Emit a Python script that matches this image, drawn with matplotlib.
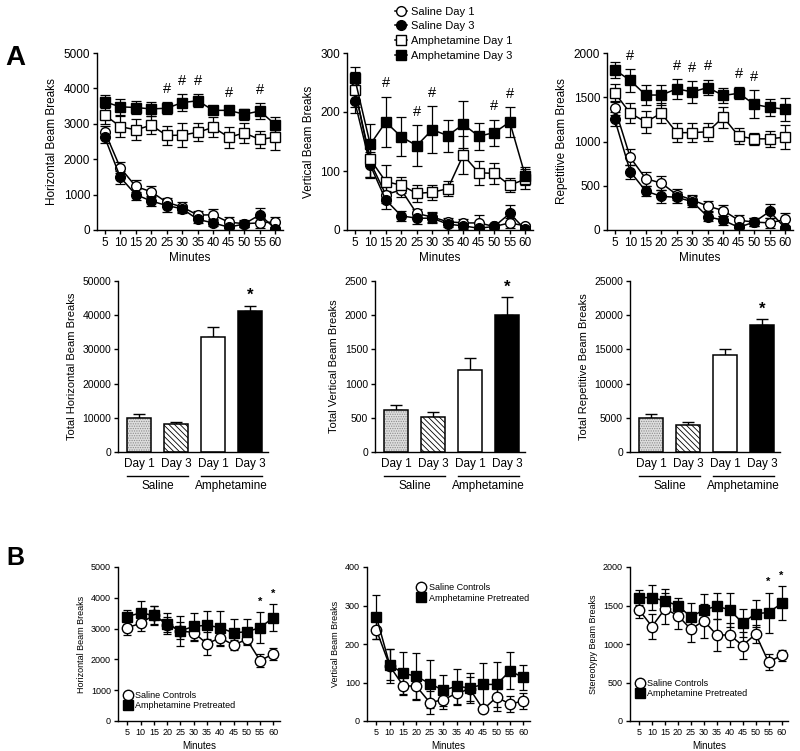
import matplotlib
matplotlib.use("Agg")
import matplotlib.pyplot as plt
import matplotlib.transforms as mtransforms
import numpy as np

plt.rcParams['font.family'] = ['Liberation Sans', 'DejaVu Sans']
plt.rcParams['hatch.linewidth'] = 0.6

minutes = [5, 10, 15, 20, 25, 30, 35, 40, 45, 50, 55, 60]

# ---- panel A, time courses (mean, sem) ----
horiz_sal1 = [2780, 1760, 1230, 1080, 780, 650, 420, 430, 220, 180, 200, 230]
horiz_sal1_err = [150, 150, 170, 150, 130, 150, 120, 150, 150, 100, 150, 150]
horiz_sal3 = [2620, 1490, 1000, 820, 690, 600, 300, 200, 80, 170, 430, 40]
horiz_sal3_err = [150, 180, 150, 130, 170, 120, 100, 100, 80, 80, 180, 50]
horiz_amp1 = [3250, 2920, 2830, 2960, 2670, 2680, 2760, 2900, 2620, 2740, 2560, 2620]
horiz_amp1_err = [250, 300, 300, 250, 270, 330, 250, 280, 300, 270, 250, 350]
horiz_amp3 = [3620, 3480, 3460, 3420, 3440, 3600, 3650, 3380, 3380, 3270, 3360, 2980]
horiz_amp3_err = [180, 220, 190, 200, 170, 230, 180, 100, 120, 150, 230, 200]
horiz_hash = [25, 30, 35, 45, 55]

vert_sal1 = [240, 115, 60, 68, 28, 22, 14, 12, 12, 6, 12, 7]
vert_sal1_err = [25, 25, 15, 12, 8, 8, 6, 6, 13, 5, 8, 4]
vert_sal3 = [218, 110, 51, 24, 20, 20, 10, 7, 3, 6, 28, 1]
vert_sal3_err = [20, 22, 15, 8, 10, 8, 5, 5, 3, 3, 15, 2]
vert_amp1 = [238, 120, 82, 76, 62, 64, 70, 127, 97, 96, 76, 86]
vert_amp1_err = [30, 30, 28, 13, 15, 13, 13, 32, 20, 18, 12, 17]
vert_amp3 = [257, 145, 183, 158, 143, 170, 160, 179, 159, 165, 183, 92]
vert_amp3_err = [20, 35, 43, 33, 35, 40, 27, 40, 23, 22, 25, 15]
vert_hash = [15, 25, 30, 50, 55]

rep_sal1 = [1380, 820, 580, 530, 400, 340, 270, 220, 110, 90, 80, 120]
rep_sal1_err = [80, 90, 80, 80, 60, 60, 60, 60, 60, 50, 60, 70]
rep_sal3 = [1250, 660, 440, 380, 370, 320, 150, 110, 30, 90, 210, 20]
rep_sal3_err = [80, 80, 60, 70, 60, 60, 50, 50, 40, 40, 80, 30]
rep_amp1 = [1550, 1320, 1220, 1320, 1100, 1100, 1110, 1275, 1060, 1030, 1030, 1050]
rep_amp1_err = [100, 110, 120, 110, 110, 110, 100, 120, 90, 70, 90, 140]
rep_amp3 = [1810, 1690, 1525, 1525, 1595, 1560, 1610, 1520, 1545, 1420, 1385, 1365]
rep_amp3_err = [90, 130, 110, 110, 110, 120, 90, 80, 70, 160, 100, 130]
rep_hash = [10, 25, 30, 35, 45, 50]

# ---- panel A, totals ----
bar_labels = ['Day 1', 'Day 3', 'Day 1', 'Day 3']
tot_horiz = [10000, 8300, 33500, 41200]
tot_horiz_err = [1200, 600, 3000, 1600]
tot_vert = [620, 510, 1200, 2000]
tot_vert_err = [70, 70, 180, 260]
tot_rep = [5000, 4000, 14200, 18600]
tot_rep_err = [550, 350, 900, 800]

# ---- panel B ----
b_horiz_sal = [3030, 3170, 3440, 3130, 2930, 2870, 2510, 2700, 2470, 2650, 1960, 2180]
b_horiz_sal_err = [230, 250, 300, 250, 280, 280, 380, 250, 150, 150, 200, 200]
b_horiz_amp = [3390, 3510, 3430, 3160, 2930, 3070, 3110, 3030, 2860, 2900, 3030, 3360]
b_horiz_amp_err = [230, 400, 300, 350, 480, 450, 450, 550, 450, 420, 500, 430]
b_horiz_star = [55, 60]

b_vert_sal = [237, 143, 92, 90, 48, 55, 72, 83, 30, 62, 44, 52]
b_vert_sal_err = [25, 45, 25, 35, 30, 25, 30, 30, 3, 35, 20, 20]
b_vert_amp = [271, 146, 124, 116, 97, 80, 90, 86, 95, 95, 130, 113]
b_vert_amp_err = [57, 40, 55, 60, 62, 40, 45, 38, 55, 58, 48, 33]

b_ster_sal = [1443, 1227, 1457, 1369, 1192, 1302, 1117, 1117, 980, 1130, 764, 852]
b_ster_sal_err = [110, 160, 200, 170, 170, 220, 210, 150, 170, 120, 100, 70]
b_ster_amp = [1603, 1603, 1558, 1500, 1351, 1443, 1492, 1443, 1272, 1395, 1408, 1527]
b_ster_amp_err = [100, 160, 150, 100, 180, 200, 170, 220, 180, 170, 260, 220]
b_ster_star = [55, 60]


fig = plt.figure(figsize=(8, 7.51), dpi=100)
W, H = 800.0, 751.0


def add_ax(left, top, width, height):
    return fig.add_axes([left / W, 1 - (top + height) / H, width / W, height / H])


def style(ax, ymax, ystep, fs):
    for s in ['top', 'right']:
        ax.spines[s].set_visible(False)
    for s in ['left', 'bottom']:
        ax.spines[s].set_linewidth(1.0)
    ax.set_ylim(0, ymax)
    ax.set_yticks(np.arange(0, ymax + 1, ystep))
    ax.tick_params(direction='out', length=3, width=1.0, labelsize=fs, pad=2)


def course(ax, vals, errs, marker, filled, ms, cap):
    ax.errorbar(minutes, vals, yerr=errs, fmt='none', ecolor='black',
                elinewidth=0.9, capsize=cap, capthick=0.9, zorder=2)
    ln, = ax.plot(minutes, vals, color='black', lw=1.1, marker=marker, ms=ms,
                  mfc='black' if filled else 'white', mec='black', mew=1.0, zorder=3)
    return ln


def marks(ax, where, vals, errs, sym, frac, fs):
    ymax = ax.get_ylim()[1]
    for m in where:
        i = minutes.index(m)
        ax.text(m, vals[i] + errs[i] + frac * ymax, sym, ha='center', va='center',
                fontsize=fs, fontweight='bold' if sym == '*' else 'normal')


# ---------- top row ----------
top_sets = [
    ('Horizontal Beam Breaks', 5000, 1000, 97,
     [(horiz_sal1, horiz_sal1_err), (horiz_sal3, horiz_sal3_err),
      (horiz_amp1, horiz_amp1_err), (horiz_amp3, horiz_amp3_err)], horiz_hash),
    ('Vertical Beam Breaks', 300, 100, 347,
     [(vert_sal1, vert_sal1_err), (vert_sal3, vert_sal3_err),
      (vert_amp1, vert_amp1_err), (vert_amp3, vert_amp3_err)], vert_hash),
    ('Repetitive Beam Breaks', 2000, 500, 607,
     [(rep_sal1, rep_sal1_err), (rep_sal3, rep_sal3_err),
      (rep_amp1, rep_amp1_err), (rep_amp3, rep_amp3_err)], rep_hash),
]
styles = [('o', False), ('o', True), ('s', False), ('s', True)]
legend_names = ['Saline Day 1', 'Saline Day 3', 'Amphetamine Day 1', 'Amphetamine Day 3']

handles = []
for ylab, ymax, ystep, left, series, hashes in top_sets:
    ax = add_ax(left, 53, 186, 177)
    hs = []
    for (v, e), (mk, fl) in zip(series, styles):
        hs.append(course(ax, v, e, mk, fl, 7, 3.5))
    handles = hs
    style(ax, ymax, ystep, 8.5)
    ax.set_xlim(2.5, 62.5)
    ax.set_xticks(minutes)
    ax.set_xlabel('Minutes', fontsize=8.5, labelpad=2)
    ax.set_ylabel(ylab, fontsize=8.5)
    marks(ax, hashes, series[3][0], series[3][1], '#', 0.075, 10.5)

fig.legend(handles, legend_names, loc='upper left', bbox_to_anchor=(388 / W, 1.0),
           frameon=False, fontsize=8, handlelength=1.1, handletextpad=0.4,
           labelspacing=0.42, borderpad=0.1)

fig.text(5 / W, 1 - 58 / H, 'A', fontsize=20, fontweight='bold', va='center', ha='left')

# ---------- bar row ----------
bar_sets = [
    ('Total Horizontal Beam Breaks', 50000, 10000, 118, tot_horiz, tot_horiz_err),
    ('Total Vertical Beam Breaks', 2500, 500, 375, tot_vert, tot_vert_err),
    ('Total Repetitive Beam Breaks', 25000, 5000, 630, tot_rep, tot_rep_err),
]
bar_face = ['#dedede', 'white', 'white', 'black']
bar_hatch = ['.......', '\\\\\\\\\\\\', None, None]
bar_hatch_col = ['#8c8c8c', 'black', 'black', 'black']
xb = np.arange(4)
bw = 0.66
for ylab, ymax, ystep, left, tot, err in bar_sets:
    ax = add_ax(left, 281, 150, 171)
    for i in range(4):
        ax.bar(xb[i], tot[i], width=bw, color=bar_face[i], edgecolor=bar_hatch_col[i],
               hatch=bar_hatch[i], linewidth=0, zorder=2)
        ax.bar(xb[i], tot[i], width=bw, fill=False, edgecolor='black', linewidth=1.1, zorder=3)
    ax.errorbar(xb, tot, yerr=[[0] * 4, err], fmt='none', ecolor='black',
                elinewidth=1.0, capsize=4, capthick=1.0, zorder=1)
    style(ax, ymax, ystep, 7.5)
    ax.set_xlim(-0.57, 3.48)
    ax.set_xticks(xb)
    ax.set_xticklabels(bar_labels, fontsize=8.5)
    ax.tick_params(axis='x', length=0, pad=4)
    ax.set_ylabel(ylab, fontsize=8)
    ax.text(3, tot[3] + err[3] + 0.06 * ymax, '*', ha='center', va='center',
            fontsize=12, fontweight='bold')
    tr = mtransforms.blended_transform_factory(ax.transData, ax.transAxes)
    for (a, b), name in zip([(0, 1), (2, 3)], ['Saline', 'Amphetamine']):
        ax.plot([a - bw / 2, b + bw / 2], [-0.14, -0.14], color='black', lw=1.0,
                transform=tr, clip_on=False)
        ax.text((a + b) / 2, -0.2, name, ha='center', va='center', fontsize=8.5, transform=tr)

# ---------- bottom row (B) ----------
bot_sets = [
    ('Horizontal Beam Breaks', 5000, 1000, 118, 162, b_horiz_sal, b_horiz_sal_err,
     b_horiz_amp, b_horiz_amp_err, b_horiz_star, (0.03, 0.2)),
    ('Vertical Beam Breaks', 400, 100, 367, 163, b_vert_sal, b_vert_sal_err,
     b_vert_amp, b_vert_amp_err, [], (0.3, 0.9)),
    ('Stereotypy Beam Breaks', 2000, 500, 630, 158, b_ster_sal, b_ster_sal_err,
     b_ster_amp, b_ster_amp_err, b_ster_star, (0.03, 0.28)),
]
for ylab, ymax, ystep, left, width, sv, se, av, ae, stars, lpos in bot_sets:
    ax = add_ax(left, 567, width, 154)
    h1 = course(ax, sv, se, 'o', False, 7.5, 3)
    h2 = course(ax, av, ae, 's', True, 7.5, 3)
    style(ax, ymax, ystep, 6.5)
    ax.set_xlim(1.5, 62.5)
    ax.set_xticks(minutes)
    ax.set_xlabel('Minutes', fontsize=7, labelpad=3)
    ax.set_ylabel(ylab, fontsize=6.5)
    marks(ax, stars, av, ae, '*', 0.07, 8)
    ax.legend([h1, h2], ['Saline Controls', 'Amphetamine Pretreated'], loc='upper left',
              bbox_to_anchor=lpos, frameon=False, fontsize=6.5, handlelength=0.9,
              handletextpad=0.4, labelspacing=0.15, borderpad=0.1, borderaxespad=0)

fig.text(6 / W, 1 - 558 / H, 'B', fontsize=18, fontweight='bold', va='center', ha='left')

fig.savefig('out.png', dpi=100)
plt.close(fig)
